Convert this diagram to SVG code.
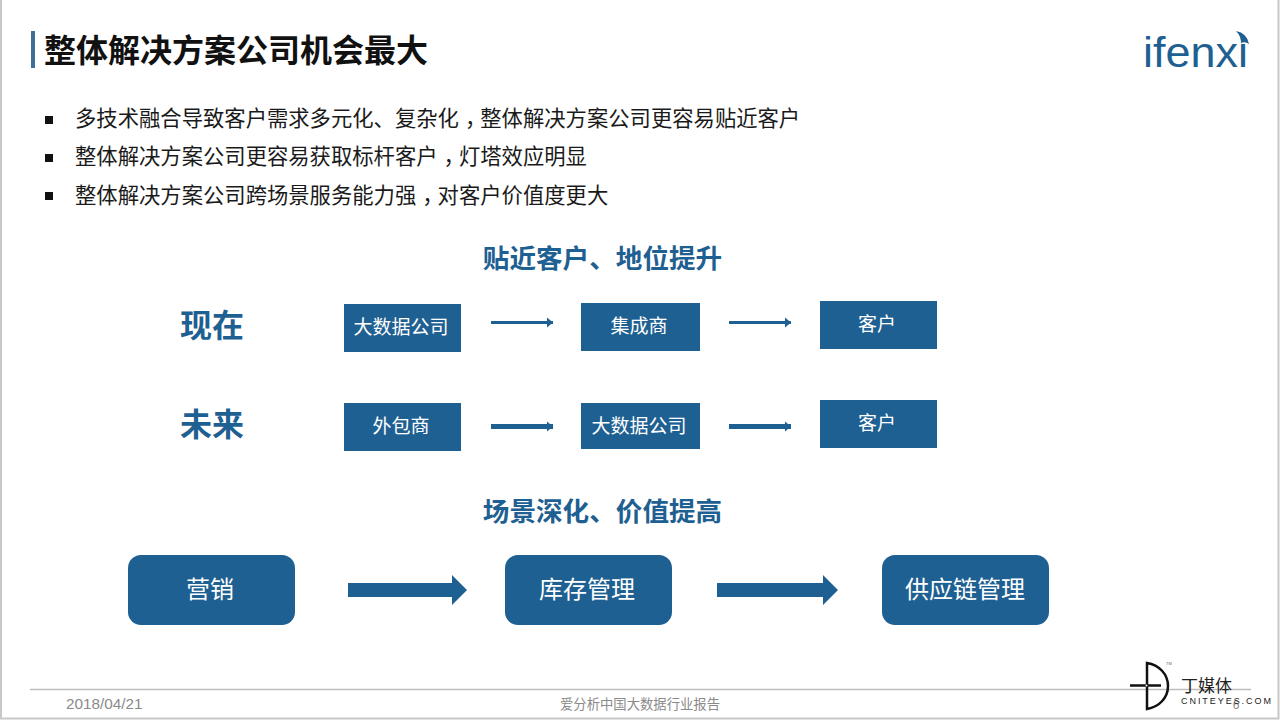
<svg xmlns="http://www.w3.org/2000/svg" width="1280" height="720" viewBox="0 0 1280 720">
<style>
text{font-family:"Liberation Sans","Noto Sans CJK SC",sans-serif}
.bar{fill:#1f6092}
.t{fill:#fff;font-size:19px;text-anchor:middle}
.b{fill:#fff;font-size:24px;text-anchor:middle}
.h{fill:#1f6092;font-weight:700;font-size:26.6px;text-anchor:middle}
.k{fill:#1f6092;font-weight:700;font-size:32px;text-anchor:middle}
.li{fill:#1a1a1a;font-size:21.33px}
.f{fill:#8a8a8a}
.c{stroke:#1f6092;fill:none}
</style>
<defs>
<marker id="ah" markerUnits="userSpaceOnUse" markerWidth="8" markerHeight="12" refX="6" refY="6" orient="auto"><path d="M0 1L6 6L0 11Z" fill="#1f6092"/></marker>
</defs>
<rect width="1280" height="720" fill="#fff"/>
<path d="M1 0V718.500H1278.500V0" fill="none" stroke="#c8c8c8" stroke-width="2"/>
<g id="header">
<rect x="31" y="31" width="4" height="37" fill="#3f6f96"/>
<text x="44" y="62" font-size="32" font-weight="700" fill="#111">整体解决方案公司机会最大</text>
</g>
<g id="logo">
<text x="1143" y="67" font-size="42" font-weight="500" font-family="'Open Sans','Liberation Sans',sans-serif" fill="#1f6092" textLength="105" lengthAdjust="spacingAndGlyphs">ifenxi</text>
<path d="M1236 31Q1247 33 1249 44Q1245 41 1241 43Q1241 36 1236 31Z" fill="#1f6092"/>
</g>
<g id="bullets">
<rect x="45" y="116" width="8" height="8" fill="#111"/>
<rect x="45" y="154" width="8" height="8" fill="#111"/>
<rect x="45" y="192" width="8" height="8" fill="#111"/>
<text class="li" x="75" y="126">多技术融合导致客户需求多元化、复杂化<tspan dx="6">，</tspan><tspan dx="-6">整体解决方案公司更容易贴近客户</tspan></text>
<text class="li" x="75" y="164">整体解决方案公司更容易获取标杆客户<tspan dx="6">，</tspan><tspan dx="-6">灯塔效应明显</tspan></text>
<text class="li" x="75" y="203">整体解决方案公司跨场景服务能力强<tspan dx="6">，</tspan><tspan dx="-6">对客户价值度更大</tspan></text>
</g>
<text class="h" x="602.500" y="268">贴近客户、地位提升</text>
<text class="h" x="602.500" y="521">场景深化、价值提高</text>
<text class="k" x="212" y="337">现在</text>
<text class="k" x="212" y="436">未来</text>
<g id="connectors">
<path class="c" stroke-width="3" marker-end="url(#ah)" d="M491 322.500H553"/>
<path class="c" stroke-width="3" marker-end="url(#ah)" d="M729 322.500H791"/>
<path class="c" stroke-width="5" marker-end="url(#ah)" d="M491 426.500H553"/>
<path class="c" stroke-width="5" marker-end="url(#ah)" d="M729 426.500H791"/>
<path class="bar" d="M348 583H452V575L467 590L452 605V597H348Z"/>
<path class="bar" d="M717 583H823V575L838 590L823 605V597H717Z"/>
</g>
<g id="n1"><rect class="bar" x="344" y="304" width="117" height="48"/><text class="t" x="401" y="334">大数据公司</text></g>
<g id="n2"><rect class="bar" x="581" y="303" width="119" height="48"/><text class="t" x="639" y="333">集成商</text></g>
<g id="n3"><rect class="bar" x="820" y="301" width="117" height="48"/><text class="t" x="877" y="331">客户</text></g>
<g id="n4"><rect class="bar" x="344" y="403" width="117" height="48"/><text class="t" x="401" y="433">外包商</text></g>
<g id="n5"><rect class="bar" x="581" y="403" width="119" height="46"/><text class="t" x="639" y="433">大数据公司</text></g>
<g id="n6"><rect class="bar" x="820" y="400" width="117" height="48"/><text class="t" x="877" y="430">客户</text></g>
<g id="n7"><rect class="bar" x="128" y="555" width="167" height="70" rx="13"/><text class="b" x="210" y="598">营销</text></g>
<g id="n8"><rect class="bar" x="505" y="555" width="167" height="70" rx="13"/><text class="b" x="587" y="598">库存管理</text></g>
<g id="n9"><rect class="bar" x="882" y="555" width="167" height="70" rx="13"/><text class="b" x="965" y="598">供应链管理</text></g>
<g id="footer">
<path d="M30 689.500H1251" stroke="#bdbdbd" stroke-width="1.500"/>
<text class="f" x="66" y="709" font-size="15.300">2018/04/21</text>
<text class="f" x="640" y="709" font-size="13.330" text-anchor="middle">爱分析中国大数据行业报告</text>
<text class="f" x="1236" y="709" font-size="12" text-anchor="middle">6</text>
</g>
<g id="brand">
<path d="M1147 663C1159 665 1168 674 1168 686C1168 698 1159 707 1147 709Z" fill="none" stroke="#111" stroke-width="2.500"/>
<path d="M1130 685.500H1161" stroke="#111" stroke-width="2.500"/>
<circle cx="1146.500" cy="685.500" r="1" fill="#fff"/>
<text x="1166" y="665" font-size="4" fill="#666">TM</text>
<text x="1181" y="692" font-size="17" fill="#222">丁媒体</text>
<text x="1181" y="704" font-size="9" fill="#222" letter-spacing="1.950">CNITEYES.COM</text>
</g>
</svg>
